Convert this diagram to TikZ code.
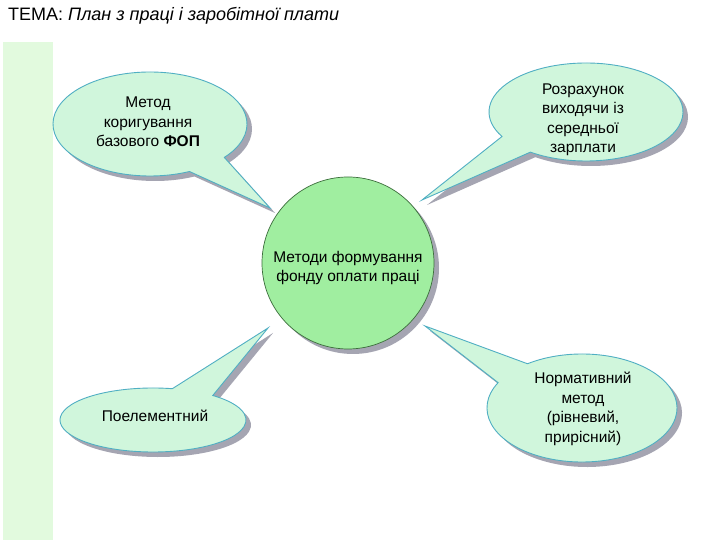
\documentclass[tikz,border=0pt]{standalone}
\usepackage{fontspec}
\setmainfont{Liberation Sans}
\definecolor{stripcol}{RGB}{226,250,222}
\definecolor{bubfill}{RGB}{208,246,220}
\definecolor{bubline}{RGB}{80,175,195}
\definecolor{circfill}{RGB}{160,238,160}
\definecolor{circline}{RGB}{60,110,60}
\definecolor{shadcol}{RGB}{165,165,178}
\begin{document}
\begin{tikzpicture}[x=1pt,y=1pt,
  bubble/.style n args={8}{insert path={({#1+#3*cos(#5)},{#2+#4*sin(#5)}) -- (#7,#8) -- ({#1+#3*cos(#6)},{#2+#4*sin(#6)}) arc[start angle=#6, end angle={#5+360}, x radius=#3, y radius=#4] -- cycle}},
  bubstyle/.style={fill=bubfill, draw=bubline, line width=0.9pt},
  shadstyle/.style={fill=shadcol, shift={(5,-5)}},
  txt/.style={font=\fontsize{15.5}{19.5}\selectfont, align=center, text=black}]
\useasboundingbox (0,0) rectangle (720,540);
\fill[white] (0,0) rectangle (720,540);
% left strip
\fill[stripcol] (3,0) rectangle (53,498);
% title
\node[anchor=base west, inner sep=0pt, font=\fontsize{18}{21}\selectfont] (title) at (8,519) {ТЕМА: \textit{План з праці і заробітної плати}};
% shadows
\path[shadstyle, bubble={150}{416}{97}{52}{-66}{-40}{270}{332}];
\path[shadstyle, bubble={586}{428}{97}{49}{-150}{-125}{422}{340}];
\path[shadstyle, bubble={153}{120}{93}{32}{50}{78}{268}{212}];
\path[shadstyle, bubble={582}{132}{95}{54}{125}{152}{425}{214}];
\fill[shadcol] (353,272) circle[radius=86];
% bubbles
\path[bubstyle, bubble={150}{416}{97}{52}{-66}{-40}{270}{332}];
\path[bubstyle, bubble={586}{428}{97}{49}{-150}{-125}{422}{340}];
\path[bubstyle, bubble={153}{120}{93}{32}{50}{78}{268}{212}];
\path[bubstyle, bubble={582}{132}{95}{54}{125}{152}{425}{214}];
% centre circle
\node[circle, minimum size=172pt, fill=circfill, draw=circline, line width=0.7pt, inner sep=0pt] (hub) at (348,277) {};
% texts
\node[txt] (t1) at (148,418) {Метод\\коригування\\базового \textbf{ФОП}};
\node[txt] (t2) at (583,420) {Розрахунок\\виходячи із\\середньої\\зарплати};
\node[txt] (t0) at (348,272) {Методи формування\\фонду оплати праці};
\node[txt] (t3) at (155,124) {Поелементний};
\node[txt] (t4) at (583,131) {Нормативний\\метод\\(рівневий,\\прирісний)};
\end{tikzpicture}
\end{document}
